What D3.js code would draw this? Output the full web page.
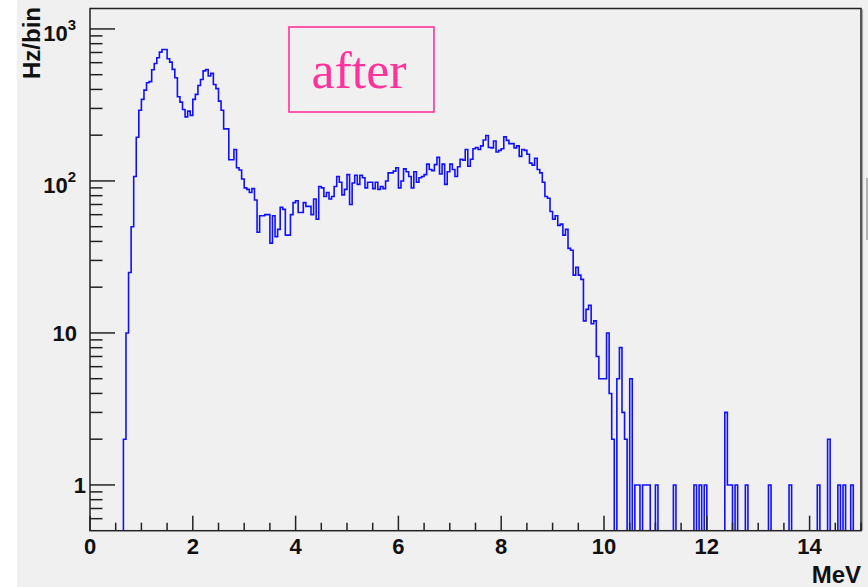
<!DOCTYPE html>
<html>
<head>
<meta charset="utf-8">
<script src="https://cdn.jsdelivr.net/npm/d3@7"></script>
<style>
  html, body { margin: 0; padding: 0; background: #f0f0f0; }
  svg { display: block; }
</style>
</head>
<body>
<svg id="chart" width="868" height="587"></svg>
<script>
// Energy spectrum in 0.05 MeV bins, rate per bin (Hz/bin)
const binWidth = 0.05;
const firstBinLow = 0.65;

// 0.65 – 2.95 MeV
const peakCounts = [
  2, 10, 25, 50, 107, 194, 292, 344, 396, 443,
  450, 539, 593, 646, 704, 733, 733, 637, 605, 542,
  477, 358, 330, 295, 264, 288, 270, 344, 371, 425,
  465, 530, 540, 490, 510, 431, 405, 335, 292, 220,
  220, 138, 138, 161, 122, 118, 103
];
// 3.00 – 5.95 MeV
const plateauCounts = [
  90, 88, 84, 89, 75, 46, 59, 59, 60, 60,
  39, 59, 43, 48, 67, 65, 44, 44, 60, 72,
  74, 62, 62, 72, 68, 68, 60, 76, 56, 92,
  90, 79, 84, 76, 79, 92, 107, 98, 81, 88,
  110, 70, 97, 109, 95, 109, 105, 90, 98, 98,
  89, 98, 88, 92, 89, 100, 113, 113, 116, 122
];
// 6.00 – 8.95 MeV
const shoulderCounts = [
  90, 100, 120, 115, 107, 90, 115, 98, 105, 107,
  110, 129, 119, 117, 128, 143, 111, 129, 95, 115,
  129, 119, 107, 124, 139, 137, 161, 125, 139, 163,
  166, 161, 170, 186, 199, 166, 165, 183, 155, 159,
  163, 195, 185, 176, 176, 165, 170, 145, 161, 159,
  150, 131, 127, 141, 119, 113, 98, 79, 77, 63
];
// 9.00 – 14.95 MeV
const tailCounts = [
  56, 59, 51, 52, 44, 48, 36, 35, 24, 27,
  24, 22.5, 12, 14.3, 15.2, 11.5, 12, 7, 5, 5,
  5, 10, 4, 2, 0, 5, 8, 3, 2, 0,
  5, 0, 1, 1, 0, 1, 1, 1, 0, 0,
  1, 0, 0, 0, 0, 0, 0, 1, 0, 0,
  0, 0, 0, 0, 0, 1, 0, 1, 0, 1,
  0, 0, 0, 0, 0, 0, 0, 3, 1, 1,
  0, 1, 0, 0, 0, 1, 0, 0, 0, 0,
  0, 0, 0, 0, 1, 0, 0, 0, 0, 0,
  0, 0, 1, 0, 0, 0, 0, 0, 0, 0,
  0, 0, 0, 1, 0, 0, 0, 2, 0, 0,
  0, 1, 0, 1, 0, 0, 1, 0, 0, 0
];

const xDomain = [0, 15];
const yDomain = [0.5, 1363];
const xTickValues = [0, 2, 4, 6, 8, 10, 12, 14];
const yMajorTicks = [1, 10, 100, 1000];
const yTickBase = ["1", "10", "10", "10"];
const yTickExponent = ["", "", "2", "3"];
const xTitle = "MeV";
const yTitle = "Hz/bin";
const boxLabel = "after";

const svg = d3.select("#chart");
const W = 868, H = 587;
const frame = { left: 90, right: 861, top: 8.5, bottom: 530.7 };

const x = d3.scaleLinear().domain(xDomain).range([frame.left, frame.right]);
const y = d3.scaleLog().domain(yDomain).range([frame.bottom, frame.top]);

// page background with the white strip on the left
svg.append("rect").attr("x", 0).attr("y", 0).attr("width", W).attr("height", H).attr("fill", "#f0f0f0");
svg.append("rect").attr("x", 0).attr("y", 0).attr("width", 17).attr("height", H).attr("fill", "#ffffff");
svg.append("rect").attr("x", 866).attr("y", 178).attr("width", 2).attr("height", 62).attr("fill", "#b4b4b4");

// histogram outline
const counts = peakCounts.concat(plateauCounts, shoulderCounts, tailCounts);
const yMin = yDomain[0];
const pts = [[firstBinLow, yMin]];
counts.forEach((c, i) => {
  const lo = firstBinLow + i * binWidth;
  const v = Math.max(c, yMin);
  pts.push([lo, v], [lo + binWidth, v]);
});
pts.push([firstBinLow + counts.length * binWidth, yMin]);

const line = d3.line().x(d => x(d[0])).y(d => y(d[1]));
const clipId = "plotClip";
svg.append("clipPath").attr("id", clipId)
  .append("rect").attr("x", frame.left).attr("y", frame.top)
  .attr("width", frame.right - frame.left).attr("height", frame.bottom - frame.top);
svg.append("path")
  .datum(pts)
  .attr("d", line)
  .attr("clip-path", `url(#${clipId})`)
  .attr("fill", "none")
  .attr("stroke", "#1010ff")
  .attr("stroke-width", 1.6)
  .attr("stroke-linejoin", "miter");

// axes ticks
const axisColor = "#222222";
const g = svg.append("g").attr("stroke", axisColor).attr("stroke-width", 1.5);

// x ticks: major every 2 MeV, minor every 0.5 MeV
const xMinor = d3.range(0, 15.001, 0.5);
xMinor.forEach(v => {
  const major = xTickValues.includes(Math.round(v * 1000) / 1000);
  g.append("line")
    .attr("x1", x(v)).attr("x2", x(v))
    .attr("y1", frame.bottom).attr("y2", frame.bottom - (major ? 15 : 8));
});

// y ticks: decades and the 2..9 subdivisions
yMajorTicks.forEach(v => {
  g.append("line").attr("x1", frame.left).attr("x2", frame.left + 25)
    .attr("y1", y(v)).attr("y2", y(v));
});
const yMinor = [];
[0.1, 1, 10, 100].forEach(dec => {
  for (let k = 2; k <= 9; k++) {
    const v = dec * k;
    if (v > yDomain[0] && v < yDomain[1]) yMinor.push(v);
  }
});
yMinor.forEach(v => {
  g.append("line").attr("x1", frame.left).attr("x2", frame.left + 12.5)
    .attr("y1", y(v)).attr("y2", y(v));
});

// frame
svg.append("line").attr("x1", frame.right + 1.6).attr("x2", frame.right + 1.6)
  .attr("y1", frame.top + 1).attr("y2", frame.bottom)
  .attr("stroke", "#a0a0a0").attr("stroke-width", 1);
svg.append("rect")
  .attr("x", frame.left).attr("y", frame.top)
  .attr("width", frame.right - frame.left).attr("height", frame.bottom - frame.top)
  .attr("fill", "none").attr("stroke", axisColor).attr("stroke-width", 1.5);

// tick labels
const labelFont = "'Liberation Sans', Arial, sans-serif";
svg.append("g").selectAll("text").data(xTickValues).join("text")
  .attr("x", d => x(d)).attr("y", 554)
  .attr("text-anchor", "middle")
  .attr("font-family", labelFont).attr("font-weight", "bold").attr("font-size", 22)
  .attr("fill", "#111")
  .text(d => d);

yMajorTicks.forEach((v, i) => {
  const ty = y(v);
  const t = svg.append("text")
    .attr("font-family", labelFont).attr("font-weight", "bold")
    .attr("fill", "#111").attr("text-anchor", "end");
  if (yTickExponent[i]) {
    t.attr("x", 76).attr("y", ty + 12).attr("font-size", 22);
    t.append("tspan").text(yTickBase[i]);
    t.append("tspan").attr("font-size", 15).attr("dy", -11).text(yTickExponent[i]);
  } else {
    const xEnd = yTickBase[i] === "1" ? 86 : 77;
    t.attr("x", xEnd).attr("y", ty + 8.5).attr("font-size", 22).text(yTickBase[i]);
  }
});

// axis titles
svg.append("text")
  .attr("x", 861).attr("y", 583)
  .attr("text-anchor", "end")
  .attr("font-family", labelFont).attr("font-weight", "bold").attr("font-size", 24)
  .attr("fill", "#111")
  .text(xTitle);

svg.append("text")
  .attr("transform", "translate(40,7) rotate(-90)")
  .attr("text-anchor", "end")
  .attr("font-family", labelFont).attr("font-weight", "bold").attr("font-size", 24)
  .attr("fill", "#111")
  .text(yTitle);

// annotation box
const pink = "#ff3399";
svg.append("rect")
  .attr("x", 289).attr("y", 27).attr("width", 145).attr("height", 85)
  .attr("fill", "none").attr("stroke", pink).attr("stroke-width", 1.6);
svg.append("text")
  .attr("x", 359).attr("y", 88)
  .attr("text-anchor", "middle")
  .attr("font-family", "'Liberation Serif', 'Times New Roman', serif")
  .attr("font-size", 52)
  .attr("fill", pink)
  .text(boxLabel);
</script>
</body>
</html>
